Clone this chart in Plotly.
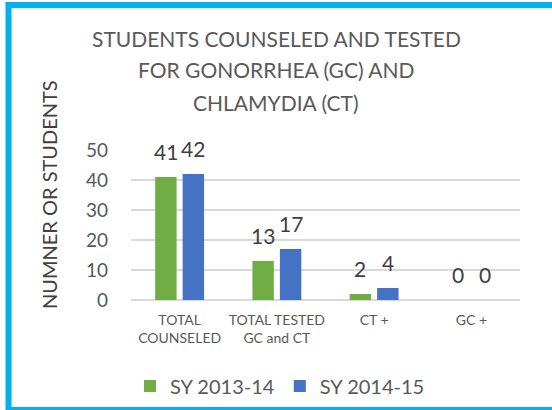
import plotly.graph_objects as go

categories = ["TOTAL<br>COUNSELED", "TOTAL TESTED<br>GC and CT", "CT +", "GC +"]
series_names = ["SY 2013-14", "SY 2014-15"]
values_2013 = [41, 13, 2, 0]
values_2014 = [42, 17, 4, 0]
colors = ["#70AD47", "#4472C4"]
title_lines = ["STUDENTS COUNSELED AND TESTED", "FOR GONORRHEA (GC) AND", "CHLAMYDIA (CT)"]
y_title = "NUMNER OR STUDENTS"
y_ticks = [0, 10, 20, 30, 40, 50]

FONT = "Lato"
W, H = 552, 410
L, R, T, B = 131, 32, 150, 110
pw, ph = W - L - R, H - T - B


def px_x(x):
    return (x - L) / pw


def px_y(y):
    return (H - B - y) / ph


fig = go.Figure()
for name, vals, col in zip(series_names, [values_2013, values_2014], colors):
    fig.add_trace(go.Bar(x=categories, y=vals, name=name, marker_color=col,
                         marker_line_width=0))

annotations = []
for i, line in enumerate(title_lines):
    annotations.append(dict(text=line, xref="paper", yref="paper",
                            x=px_x(276), y=px_y(38 + 32 * i), showarrow=False,
                            xanchor="center", yanchor="middle",
                            font=dict(family=FONT, size=21, color="#595959")))
annotations.append(dict(text=y_title, xref="paper", yref="paper", x=px_x(49), y=px_y(195),
                        textangle=-90, showarrow=False, xanchor="center", yanchor="middle",
                        font=dict(family=FONT, size=20, color="#404040")))
for vals, shift in [(values_2013, -13.75), (values_2014, 13.75)]:
    for c, v in zip(categories, vals):
        annotations.append(dict(text=str(v), x=c, y=v, xref="x", yref="y", xshift=shift,
                                yshift=26, showarrow=False, xanchor="center", yanchor="middle",
                                font=dict(family=FONT, size=21, color="#404040")))

fig.update_layout(
    width=W, height=H,
    margin=dict(l=L, r=R, t=T, b=B, autoexpand=False),
    paper_bgcolor="white", plot_bgcolor="white",
    barmode="group", bargap=0.435, bargroupgap=0.22,
    font=dict(family=FONT, color="#595959"),
    showlegend=True,
    legend=dict(orientation="h", x=px_x(280), y=px_y(386), xanchor="center", yanchor="middle",
                font=dict(family=FONT, size=20, color="#595959"), itemclick=False),
    annotations=annotations,
    shapes=[dict(type="rect", xref="paper", yref="paper",
                 x0=px_x(8.5), x1=px_x(575), y0=px_y(5), y1=px_y(410),
                 line=dict(color="#00B0F0", width=6), layer="above")],
)
fig.update_xaxes(showgrid=False, showline=False, ticks="", tickfont=dict(size=14, color="#595959"),
                 ticklabelstandoff=10, fixedrange=True)
fig.update_yaxes(range=[0, 50], tickvals=y_ticks, showgrid=True, gridcolor="#D9D9D9",
                 gridwidth=1.5, zeroline=True, zerolinecolor="#D9D9D9", zerolinewidth=1.5,
                 showline=False, ticks="", tickfont=dict(size=19, color="#595959"),
                 ticklabelstandoff=22, fixedrange=True)

fig.write_html("out.html", config={"displayModeBar": False},
               post_script="document.body.style.margin='0px';")
